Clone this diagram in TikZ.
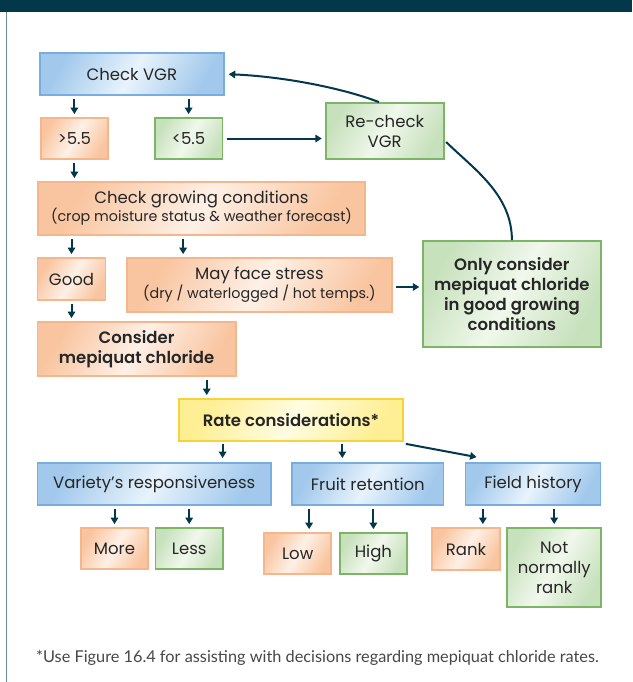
\documentclass[tikz,border=0pt]{standalone}
\usepackage{fontspec}
\setmainfont{Poppins}[BoldFont={Poppins SemiBold}]
\newfontfamily\footfont{Lato}
\usetikzlibrary{arrows.meta,calc}
\definecolor{dark}{HTML}{03384A}
\definecolor{frameline}{HTML}{6A8C96}
\definecolor{txt}{HTML}{262626}
\definecolor{bluefill}{HTML}{A2C9EC}
\definecolor{bluelight}{HTML}{E8F3FC}
\definecolor{blueline}{HTML}{7AADDF}
\definecolor{orfill}{HTML}{F9C5A0}
\definecolor{orlight}{HTML}{FEF0E6}
\definecolor{orline}{HTML}{F6B68B}
\definecolor{grfill}{HTML}{C8E1BD}
\definecolor{grlight}{HTML}{F0F8EC}
\definecolor{grline}{HTML}{7DB566}
\definecolor{yefill}{HTML}{FFEF94}
\definecolor{yelight}{HTML}{FFFCE2}
\definecolor{yeline}{HTML}{F7D23A}
\tikzset{
  x=1pt, y=-1pt,
  box/.style={rectangle, inner sep=0pt, line width=1.8pt, align=center, text=txt,
    font=\fontsize{16.5}{20}\selectfont},
  gbox/.style 2 args={box, path picture={\shade[left color=#1, right color=#1, middle color=#2, shading angle=60]
      (path picture bounding box.south west) rectangle (path picture bounding box.north east);}},
  bluebox/.style={gbox={bluefill}{bluelight}, draw=blueline},
  orbox/.style={gbox={orfill}{orlight}, draw=orline},
  grbox/.style={gbox={grfill}{grlight}, draw=grline},
  yebox/.style={gbox={yefill}{yelight}, draw=yeline},
  sz/.style 2 args={minimum width=#1pt, minimum height=#2pt},
  arr/.style={draw=dark, line width=2pt, -{Triangle[length=6.5pt,width=7.5pt]}},
  link/.style={draw=dark, line width=2pt},
  bold/.style={font=\fontsize{16.5}{20}\bfseries\selectfont},
}
\newcommand{\smalltxt}{\fontsize{14.3}{17}\selectfont}
\begin{document}
\begin{tikzpicture}
\useasboundingbox (0,0) rectangle (632,682);
\fill[white] (0,0) rectangle (632,682);
\fill[dark] (0,0) rectangle (632,12);
\draw[frameline, line width=1.5pt] (6.5,12) -- (6.5,682);

\node[bluebox, sz={184}{42}] (vgr) at (131.8,74) {Check VGR};
\node[orbox, sz={66.5}{41}] (gt) at (74.4,138.5) {>5.5};
\node[grbox, sz={67.7}{41}] (lt) at (188.6,138.5) {<5.5};
\node[grbox, sz={118}{56}] (rechk) at (384.7,131) {Re-check\\VGR};
\node[orbox, sz={326.5}{53}, font=\fontsize{16.5}{18}\selectfont] (grow) at (201.5,208.5) {Check growing conditions\\{\smalltxt(crop moisture status \& weather forecast)}};
\node[orbox, sz={68}{42}] (good) at (71.5,279) {Good};
\node[orbox, sz={264.8}{54}, font=\fontsize{16.5}{19}\selectfont] (stress) at (259.4,285) {May face stress\\{\smalltxt(dry / waterlogged / hot temps.)}};
\node[grbox, sz={177.4}{106}, bold] (only) at (511.9,294) {Only consider\\mepiquat chloride\\in good growing\\conditions};
\node[orbox, sz={198.3}{54}, bold] (consider) at (136.6,349) {Consider\\mepiquat chloride};
\node[yebox, sz={224}{42}, bold] (rate) at (291,420) {Rate considerations*};
\node[bluebox, sz={233.4}{42}] (variety) at (154.2,484) {Variety’s responsiveness};
\node[bluebox, sz={151.2}{42}] (fruit) at (367.8,484) {Fruit retention};
\node[bluebox, sz={135}{42}] (field) at (533,484) {Field history};
\node[orbox, sz={67.7}{41}] (more) at (114.5,548.5) {More};
\node[grbox, sz={67.3}{41}] (less) at (189.2,548.5) {Less};
\node[orbox, sz={67.3}{41}] (low) at (297.7,553.5) {Low};
\node[grbox, sz={67.3}{41}] (high) at (373.4,553.5) {High};
\node[orbox, sz={67.7}{42}] (rank) at (466,549) {Rank};
\node[grbox, sz={94.3}{79}] (notrank) at (554.2,567.5) {Not\\normally\\rank};

\node[anchor=west, inner sep=0pt, text=txt!85, font=\footfont\fontsize{16.3}{18}\selectfont] (foot) at (36,658) {*Use Figure 16.4 for assisting with decisions regarding mepiquat chloride rates.};

% arrows
\tikzset{sh/.style={shorten <=3.5pt, shorten >=3pt}}
\draw[arr, sh] (gt.north |- vgr.south) -- (gt.north);
\draw[arr, sh] (lt.north |- vgr.south) -- (lt.north);
\draw[arr, sh] (gt.south) -- (gt.south |- grow.north);
\draw[arr, sh] (lt.east) -- (rechk.west |- lt.east);
\draw[arr, sh] (good.north |- grow.south) -- (good.north);
\coordinate (stressin) at ($(stress.north west)+(57,0)$);
\draw[arr, sh] (stressin |- grow.south) -- (stressin);
\draw[arr, sh] (good.south) -- (good.south |- consider.north);
\draw[arr, sh] (stress.east |- 0,287) -- (only.west |- 0,287);
\coordinate (ratein) at ($(rate.north west)+(28.6,0)$);
\draw[arr, sh] (ratein |- consider.south) -- (ratein);
\coordinate (varin) at ($(variety.north west)+(186,0)$);
\draw[arr, shorten <=2pt, shorten >=4pt] (varin |- rate.south) -- (varin);
\coordinate (fruin) at ($(fruit.north west)+(51,0)$);
\draw[arr, shorten <=2pt, shorten >=4pt] (fruin |- rate.south) -- (fruin);
\coordinate (fldin) at ($(field.north west)+(12,-5)$);
\draw[arr] ($(rate.south east)+(2,2)$) -- (fldin);
\draw[arr, sh] (more.north |- variety.south) -- (more.north);
\draw[arr, sh] (less.north |- variety.south) -- (less.north);
\coordinate (lowin) at ($(low.north west)+(46,0)$);
\draw[arr, sh] (lowin |- fruit.south) -- (lowin);
\draw[arr, sh] (high.north |- fruit.south) -- (high.north);
\coordinate (rankin) at ($(rank.north west)+(51.6,0)$);
\draw[arr, sh] (rankin |- field.south) -- (rankin);
\draw[arr, sh] (notrank.north |- field.south) -- (notrank.north);

% curves
\coordinate (rtop) at ($(rechk.north)+(-5.8,0)$);
\draw[arr, shorten >=4pt] (rtop) .. controls (348,90) and (290,77) .. (vgr.east);
\coordinate (rside) at ($(rechk.east)+(1.5,11)$);
\draw[link] (rside) .. controls (475,170) and (511.9,195) .. (only.north);
\end{tikzpicture}
\end{document}
